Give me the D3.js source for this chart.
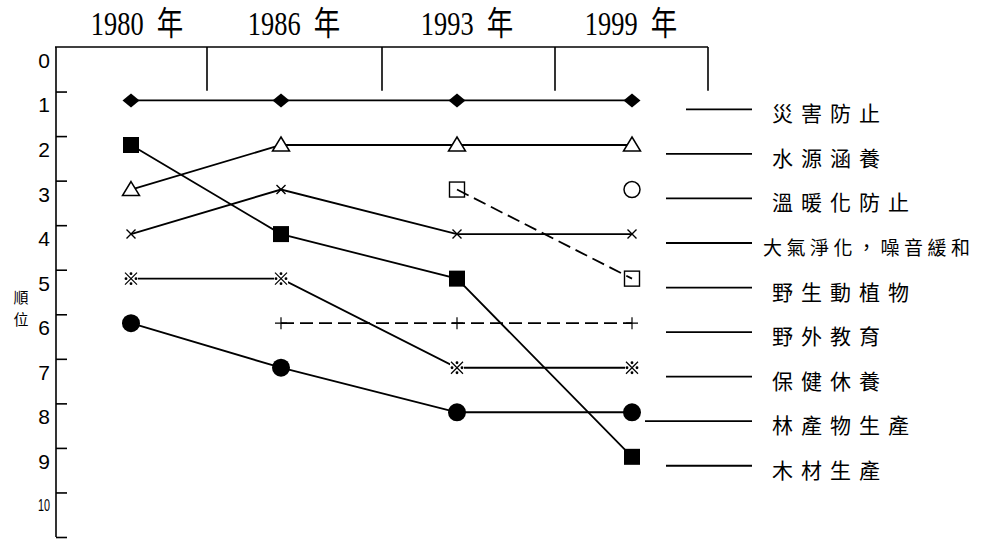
<!DOCTYPE html>
<html>
<head>
<meta charset="utf-8">
<script src="https://cdn.jsdelivr.net/npm/d3@7"></script>
<style>
  body { margin: 0; background: #fff; }
  svg { display: block; }
</style>
</head>
<body>
<svg id="chart" width="982" height="540"></svg>
<script>
// Survey years and their header labels
var years = [1980, 1986, 1993, 1999];
var yearLabels = ["1980 年", "1986 年", "1993 年", "1999 年"];

// Forest functions, in the order of the 1999 ranking (legend order)
var functionNames = ["災害防止", "水源涵養", "溫暖化防止", "大氣淨化，噪音緩和",
  "野生動植物", "野外教育", "保健休養", "林產物生產", "木材生產"];

// Rank of each function per year (null = not surveyed)
var rankDisaster  = [1, 1, 1, 1];
var rankWater     = [3, 2, 2, 2];
var rankWarming   = [null, null, null, 3];
var rankAir       = [4, 3, 4, 4];
var rankWildlife  = [null, null, 3, 5];
var rankOutdoor   = [null, 6, 6, 6];
var rankHealth    = [5, 5, 7, 7];
var rankProducts  = [6, 7, 8, 8];
var rankTimber    = [2, 4, 5, 9];

var rankTicks = [0, 1, 2, 3, 4, 5, 6, 7, 8, 9, 10];

var series = [rankDisaster, rankWater, rankWarming, rankAir, rankWildlife,
  rankOutdoor, rankHealth, rankProducts, rankTimber];

// Marker + line style per function
var markers = ["diamond", "triangle", "ring", "cross", "box", "plus", "kome", "dot", "square"];
var dashed  = [false, false, false, false, true, true, false, false, false];

var svg = d3.select("#chart");

// Scales: years to column centres, rank to vertical position
var x = d3.scaleOrdinal().domain(years).range([131, 281, 457, 632]);
var headerX = d3.scaleOrdinal().domain(years).range([137, 294, 467, 631]);
var y = d3.scaleLinear().domain([0, 11]).range([47, 537]);

var ink = "#000";

// Frame: top line, column dividers, left axis
var frame = svg.append("g").attr("stroke", ink).attr("stroke-width", 1.6).attr("fill", "none");
frame.append("line").attr("x1", 55).attr("x2", 708).attr("y1", y(0)).attr("y2", y(0));
[207, 382, 555, 708].forEach(function(d) {
  frame.append("line").attr("x1", d).attr("x2", d).attr("y1", y(0)).attr("y2", y(0.98));
});
frame.append("line").attr("x1", 56).attr("x2", 56).attr("y1", y(0)).attr("y2", y(11));

// Y axis ticks (right-pointing) and labels sitting between ticks
var yAxis = svg.append("g").attr("transform", "translate(56,0)")
  .call(d3.axisRight(y).tickValues(d3.range(1, 12)).tickSize(11).tickFormat(""));
yAxis.select(".domain").remove();
yAxis.selectAll(".tick line").attr("stroke", ink).attr("stroke-width", 1.6);

svg.append("g").selectAll("text")
  .data(rankTicks)
  .enter()
  .append("text")
    .attr("x", 50)
    .attr("y", function(d) { return y(d + 0.3); })
    .attr("text-anchor", "end")
    .attr("dominant-baseline", "central")
    .attr("fill", ink)
    .style("font-family", "'Liberation Sans', sans-serif")
    .style("font-size", function(d) { return d >= 10 ? "17px" : "21px"; })
    .attr("textLength", function(d) { return d >= 10 ? 12 : null; })
    .attr("lengthAdjust", "spacingAndGlyphs")
    .text(function(d) { return d; });

// Axis title 順位
svg.append("text")
  .attr("x", 21).attr("y", 296)
  .attr("text-anchor", "middle").attr("dominant-baseline", "central")
  .attr("fill", ink)
  .style("font-family", "'Noto Sans CJK TC', sans-serif").style("font-size", "15px")
  .text("順");
svg.append("text")
  .attr("x", 21).attr("y", 318)
  .attr("text-anchor", "middle").attr("dominant-baseline", "central")
  .attr("fill", ink)
  .style("font-family", "'Noto Sans CJK TC', sans-serif").style("font-size", "15px")
  .text("位");

// Year headers
svg.append("g").selectAll("text")
  .data(years)
  .enter()
  .append("text")
    .attr("transform", function(d) { return "translate(" + headerX(d) + ",35) scale(0.8,1)"; })
    .attr("text-anchor", "middle")
    .attr("fill", ink)
    .style("font-family", "'Liberation Serif', 'Noto Sans CJK TC', serif")
    .style("font-size", "33px")
    .style("white-space", "pre")
    .text(function(d, i) { return yearLabels[i].replace(" ", "\u2002"); });

// Lines between ranks
var line = d3.line()
  .defined(function(d) { return d.rank != null; })
  .x(function(d) { return x(d.year); })
  .y(function(d) { return y(d.rank + 0.2); });

series.forEach(function(ranks, i) {
  var pts = ranks.map(function(r, j) { return { year: years[j], rank: r }; });
  svg.append("path")
    .datum(pts)
    .attr("d", line)
    .attr("fill", "none")
    .attr("stroke", ink)
    .attr("stroke-width", 1.8)
    .attr("stroke-dasharray", dashed[i] ? "13,6" : null);
});

// Markers
function drawMarker(g, type, cx, cy) {
  switch (type) {
    case "diamond":
      g.append("path").attr("d", "M" + cx + "," + (cy - 7) + "L" + (cx + 8.5) + "," + cy +
        "L" + cx + "," + (cy + 7) + "L" + (cx - 8.5) + "," + cy + "Z").attr("fill", ink);
      break;
    case "triangle":
      g.append("path").attr("d", "M" + cx + "," + (cy - 8) + "L" + (cx + 8.5) + "," + (cy + 6) +
        "L" + (cx - 8.5) + "," + (cy + 6) + "Z")
        .attr("fill", "#fff").attr("stroke", ink).attr("stroke-width", 1.5);
      break;
    case "ring":
      g.append("circle").attr("cx", cx).attr("cy", cy).attr("r", 8)
        .attr("fill", "#fff").attr("stroke", ink).attr("stroke-width", 1.5);
      break;
    case "cross":
      g.append("path").attr("d", "M" + (cx - 4.5) + "," + (cy - 4.5) + "L" + (cx + 4.5) + "," + (cy + 4.5) +
        "M" + (cx + 4.5) + "," + (cy - 4.5) + "L" + (cx - 4.5) + "," + (cy + 4.5))
        .attr("stroke", ink).attr("stroke-width", 1.4);
      break;
    case "box":
      g.append("rect").attr("x", cx - 7.5).attr("y", cy - 7.5).attr("width", 15).attr("height", 15)
        .attr("fill", "none").attr("stroke", ink).attr("stroke-width", 1.4);
      break;
    case "plus":
      g.append("path").attr("d", "M" + (cx - 6) + "," + cy + "L" + (cx + 6) + "," + cy +
        "M" + cx + "," + (cy - 6) + "L" + cx + "," + (cy + 6))
        .attr("stroke", ink).attr("stroke-width", 1.2);
      break;
    case "kome":
      // reference mark ※ : an X with four dots
      g.append("rect").attr("x", cx - 7).attr("y", cy - 7).attr("width", 14).attr("height", 14).attr("fill", "#fff");
      g.append("path").attr("d", "M" + (cx - 6) + "," + (cy - 6) + "L" + (cx + 6) + "," + (cy + 6) +
        "M" + (cx + 6) + "," + (cy - 6) + "L" + (cx - 6) + "," + (cy + 6))
        .attr("stroke", ink).attr("stroke-width", 1.2);
      [[-5, 0], [5, 0], [0, -5], [0, 5]].forEach(function(o) {
        g.append("circle").attr("cx", cx + o[0]).attr("cy", cy + o[1]).attr("r", 1.4).attr("fill", ink);
      });
      break;
    case "dot":
      g.append("circle").attr("cx", cx).attr("cy", cy).attr("r", 9).attr("fill", ink);
      break;
    case "square":
      g.append("rect").attr("x", cx - 8).attr("y", cy - 8).attr("width", 16).attr("height", 16).attr("fill", ink);
      break;
  }
}

var markG = svg.append("g");
series.forEach(function(ranks, i) {
  ranks.forEach(function(r, j) {
    if (r == null) return;
    drawMarker(markG, markers[i], x(years[j]), y(r + 0.2));
  });
});

// Legend on the right, ordered by 1999 rank
var legend = svg.append("g");
functionNames.forEach(function(name, i) {
  var ly = y(i + 1.4);
  var x0 = i === 0 ? 686 : (i === 7 ? 645 : 666);
  legend.append("line")
    .attr("x1", x0).attr("x2", 752).attr("y1", ly).attr("y2", ly)
    .attr("stroke", ink).attr("stroke-width", 1.8);
  var small = name.length > 6;
  legend.append("text")
    .attr("x", small ? 763 : 772)
    .attr("y", ly + 3)
    .attr("dominant-baseline", "central")
    .attr("fill", ink)
    .style("font-family", "'Noto Sans CJK TC', sans-serif")
    .style("font-size", small ? "19px" : "21px")
    .style("letter-spacing", small ? "4.5px" : "8px")
    .text(name);
});
</script>
</body>
</html>
